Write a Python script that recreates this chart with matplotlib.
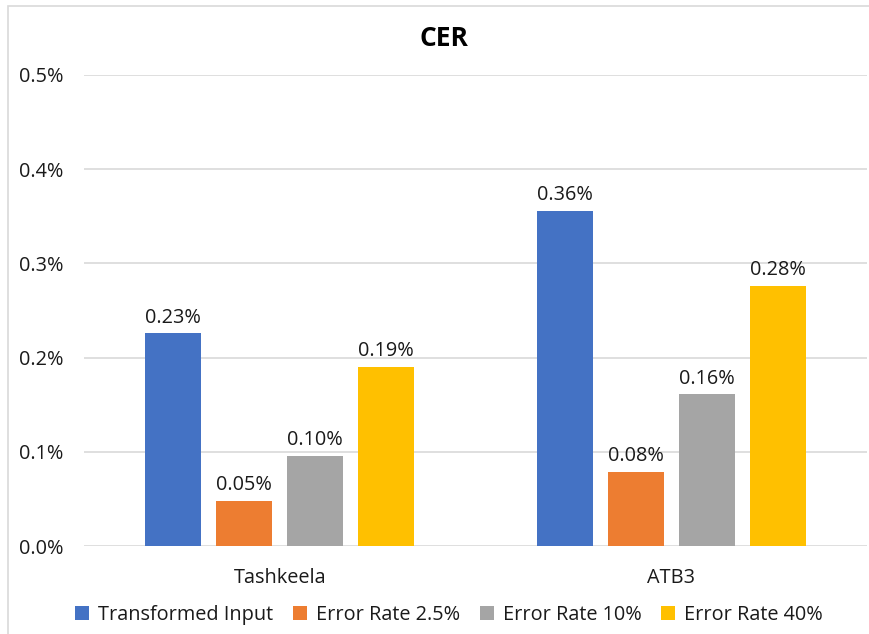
import matplotlib
matplotlib.use("Agg")
import matplotlib.pyplot as plt
from matplotlib.patches import Rectangle
import numpy as np

categories = ["Tashkeela", "ATB3"]
series_names = ["Transformed Input", "Error Rate 2.5%", "Error Rate 10%", "Error Rate 40%"]
transformed_input = [0.226, 0.356]
error_rate_2_5 = [0.048, 0.079]
error_rate_10 = [0.096, 0.161]
error_rate_40 = [0.190, 0.276]
y_ticks = [0.0, 0.1, 0.2, 0.3, 0.4, 0.5]
title = "CER"

colors = ["#4472C4", "#ED7D31", "#A5A5A5", "#FFC000"]
series = [transformed_input, error_rate_2_5, error_rate_10, error_rate_40]

plt.rcParams['font.family'] = ['Open Sans', 'DejaVu Sans']
W, H = 870, 634
fig = plt.figure(figsize=(W / 100, H / 100), dpi=100)

# chart border (right and bottom edges run off the image)
fig.patches.append(Rectangle((8 / W, -0.1), 2, (1 - 6 / H) + 0.1,
                             transform=fig.transFigure, fill=False, edgecolor="#d9d9d9", lw=1.2))

FS = 14.3
ax = fig.add_axes([84 / W, (H - 546) / H, (867 - 84) / W, (546 - 75) / H])
x = np.arange(len(categories))
step = 71 / 391.5
width = 56 / 391.5
for i, (vals, c, name) in enumerate(zip(series, colors, series_names)):
    pos = x + (i - 1.5) * step
    ax.bar(pos, vals, width=width, color=c, label=name, zorder=3)
    for p, v in zip(pos, vals):
        ax.annotate(f"{v:.2f}%", (p, v), xytext=(0, 4), textcoords="offset points",
                    ha="center", va="bottom", fontsize=FS, color="#1a1a1a")

ax.set_xlim(-0.5, 1.5)
ax.set_ylim(0, 0.5)
ax.set_yticks(y_ticks)
ax.set_yticklabels([f"{t:.1f}%" for t in y_ticks], fontsize=FS, color="#1a1a1a")
ax.set_xticks(x)
ax.set_xticklabels(categories, fontsize=FS, color="#1a1a1a")
ax.tick_params(axis="both", length=0)
ax.tick_params(axis="y", pad=15)
ax.tick_params(axis="x", pad=16)
for s in ax.spines.values():
    s.set_visible(False)
ax.grid(axis="y", color="#d9d9d9", lw=1.2, zorder=0)
ax.set_axisbelow(True)

fig.text(444 / W, 1 - 38 / H, title, ha="center", va="center", fontsize=19, fontweight="bold", color="#000000")

handles, labels = ax.get_legend_handles_labels()
fig.legend(handles, labels, loc="center", bbox_to_anchor=(449 / W, 1 - 615 / H), ncol=4,
           frameon=False, fontsize=FS, handlelength=0.7, handleheight=0.7,
           handletextpad=0.45, columnspacing=1.0, labelcolor="#1a1a1a")

fig.savefig("out.png", dpi=100)
